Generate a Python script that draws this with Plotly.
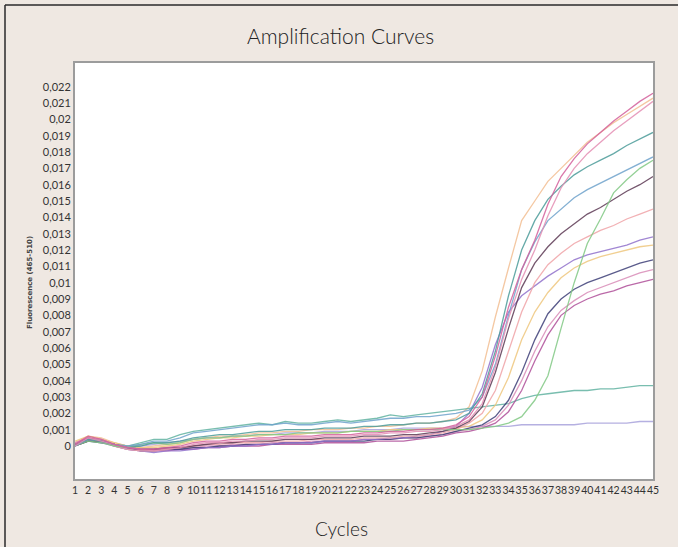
import plotly.graph_objects as go

cycles = list(range(1, 46))

ytick_vals = [0, 0.001, 0.002, 0.003, 0.004, 0.005, 0.006, 0.007, 0.008, 0.009, 0.01,
              0.011, 0.012, 0.013, 0.014, 0.015, 0.016, 0.017, 0.018, 0.019, 0.02, 0.021, 0.022]
ytick_text = ["0", "0,001", "0,002", "0,003", "0,004", "0,005", "0,006", "0,007", "0,008", "0,009", "0,01",
              "0,011", "0,012", "0,013", "0,014", "0,015", "0,016", "0,017", "0,018", "0,019", "0,02", "0,021", "0,022"]
xtick_text = [str(c) for c in cycles]

peach = [0.0002, 0.0006, 0.0005, 0.0002, 0.0000, -0.0001, 0.0000, 0.0001, 0.0002, 0.0004,
         0.0005, 0.0006, 0.0006, 0.0007, 0.0008, 0.0008, 0.0009, 0.0009, 0.0010, 0.0010,
         0.0010, 0.0011, 0.0011, 0.0012, 0.0012, 0.0013, 0.0014, 0.0014, 0.0015, 0.0017,
         0.0024, 0.0046, 0.0079, 0.0109, 0.0138, 0.0150, 0.0162, 0.0170, 0.0178, 0.0186,
         0.0192, 0.0198, 0.0203, 0.0208, 0.0213]
pink_top = [0.0001, 0.0006, 0.0004, 0.0001, -0.0001, -0.0002, -0.0002, -0.0001, 0.0000, 0.0002,
            0.0003, 0.0003, 0.0004, 0.0004, 0.0005, 0.0005, 0.0006, 0.0006, 0.0006, 0.0007,
            0.0007, 0.0007, 0.0008, 0.0008, 0.0009, 0.0009, 0.0010, 0.0010, 0.0011, 0.0013,
            0.0018, 0.0030, 0.0055, 0.0085, 0.0108, 0.0126, 0.0148, 0.0165, 0.0176, 0.0185,
            0.0192, 0.0199, 0.0205, 0.0211, 0.0216]
pink_light = [0.0000, 0.0005, 0.0003, 0.0001, -0.0001, -0.0002, -0.0003, -0.0002, -0.0001, 0.0001,
              0.0002, 0.0002, 0.0003, 0.0003, 0.0004, 0.0004, 0.0005, 0.0005, 0.0005, 0.0006,
              0.0006, 0.0006, 0.0007, 0.0007, 0.0008, 0.0008, 0.0009, 0.0009, 0.0010, 0.0012,
              0.0016, 0.0026, 0.0048, 0.0078, 0.0102, 0.0120, 0.0141, 0.0158, 0.0170, 0.0179,
              0.0186, 0.0193, 0.0199, 0.0205, 0.0211]
teal = [0.0001, 0.0004, 0.0003, 0.0001, -0.0001, 0.0000, 0.0002, 0.0002, 0.0003, 0.0005,
        0.0006, 0.0007, 0.0007, 0.0008, 0.0009, 0.0009, 0.0010, 0.0010, 0.0010, 0.0011,
        0.0011, 0.0011, 0.0012, 0.0012, 0.0013, 0.0013, 0.0014, 0.0014, 0.0015, 0.0016,
        0.0020, 0.0032, 0.0058, 0.0092, 0.0120, 0.0138, 0.0151, 0.0159, 0.0166, 0.0171,
        0.0175, 0.0179, 0.0184, 0.0188, 0.0192]
blue = [0.0000, 0.0004, 0.0003, 0.0001, 0.0000, 0.0001, 0.0003, 0.0003, 0.0005, 0.0008,
        0.0009, 0.0010, 0.0011, 0.0012, 0.0013, 0.0013, 0.0014, 0.0013, 0.0013, 0.0014,
        0.0015, 0.0014, 0.0015, 0.0016, 0.0017, 0.0017, 0.0018, 0.0018, 0.0019, 0.0020,
        0.0022, 0.0030, 0.0050, 0.0080, 0.0108, 0.0125, 0.0138, 0.0145, 0.0152, 0.0157,
        0.0161, 0.0165, 0.0169, 0.0173, 0.0177]
light_green = [0.0000, 0.0003, 0.0002, 0.0000, -0.0001, 0.0001, 0.0002, 0.0001, 0.0002, 0.0004,
               0.0005, 0.0005, 0.0006, 0.0006, 0.0007, 0.0007, 0.0007, 0.0008, 0.0008, 0.0008,
               0.0008, 0.0009, 0.0009, 0.0009, 0.0009, 0.0010, 0.0010, 0.0010, 0.0010, 0.0010,
               0.0010, 0.0011, 0.0012, 0.0014, 0.0018, 0.0028, 0.0043, 0.0072, 0.0100, 0.0124,
               0.0139, 0.0155, 0.0163, 0.0170, 0.0175]
dark_plum = [0.0000, 0.0003, 0.0003, 0.0001, -0.0001, -0.0002, -0.0002, -0.0001, -0.0001, 0.0000,
             0.0001, 0.0002, 0.0002, 0.0003, 0.0003, 0.0003, 0.0004, 0.0004, 0.0004, 0.0005,
             0.0005, 0.0005, 0.0006, 0.0006, 0.0006, 0.0007, 0.0007, 0.0008, 0.0009, 0.0011,
             0.0015, 0.0024, 0.0045, 0.0072, 0.0097, 0.0112, 0.0122, 0.0130, 0.0136, 0.0142,
             0.0146, 0.0151, 0.0156, 0.0160, 0.0165]
salmon = [0.0001, 0.0004, 0.0003, 0.0000, -0.0002, -0.0003, -0.0003, -0.0002, -0.0001, 0.0000,
          0.0001, 0.0001, 0.0002, 0.0002, 0.0002, 0.0003, 0.0003, 0.0003, 0.0004, 0.0004,
          0.0004, 0.0004, 0.0005, 0.0005, 0.0005, 0.0006, 0.0006, 0.0007, 0.0008, 0.0010,
          0.0014, 0.0020, 0.0034, 0.0058, 0.0082, 0.0100, 0.0111, 0.0118, 0.0124, 0.0128,
          0.0132, 0.0135, 0.0139, 0.0142, 0.0145]
purple = [0.0001, 0.0004, 0.0002, 0.0000, -0.0002, -0.0003, -0.0004, -0.0003, -0.0003, -0.0002,
          -0.0001, -0.0001, 0.0000, 0.0000, 0.0001, 0.0001, 0.0002, 0.0002, 0.0002, 0.0003,
          0.0003, 0.0003, 0.0004, 0.0004, 0.0005, 0.0005, 0.0006, 0.0007, 0.0009, 0.0012,
          0.0020, 0.0036, 0.0062, 0.0082, 0.0092, 0.0098, 0.0104, 0.0109, 0.0114, 0.0117,
          0.0119, 0.0121, 0.0123, 0.0126, 0.0128]
yellow = [0.0003, 0.0006, 0.0004, 0.0002, 0.0000, -0.0001, -0.0001, 0.0000, 0.0001, 0.0003,
          0.0004, 0.0005, 0.0005, 0.0006, 0.0006, 0.0007, 0.0007, 0.0007, 0.0008, 0.0008,
          0.0008, 0.0009, 0.0009, 0.0009, 0.0010, 0.0010, 0.0010, 0.0011, 0.0011, 0.0011,
          0.0012, 0.0016, 0.0025, 0.0042, 0.0065, 0.0082, 0.0094, 0.0103, 0.0109, 0.0113,
          0.0116, 0.0118, 0.0120, 0.0122, 0.0123]
navy = [0.0000, 0.0003, 0.0002, 0.0001, -0.0001, -0.0003, -0.0003, -0.0002, -0.0002, -0.0001,
        -0.0001, 0.0000, 0.0000, 0.0001, 0.0001, 0.0001, 0.0002, 0.0002, 0.0002, 0.0003,
        0.0003, 0.0003, 0.0003, 0.0004, 0.0004, 0.0005, 0.0005, 0.0006, 0.0007, 0.0009,
        0.0011, 0.0013, 0.0018, 0.0028, 0.0045, 0.0065, 0.0081, 0.0090, 0.0096, 0.0100,
        0.0103, 0.0106, 0.0109, 0.0112, 0.0114]
rose = [0.0002, 0.0005, 0.0004, 0.0001, -0.0001, -0.0002, -0.0002, -0.0002, -0.0001, -0.0001,
        0.0000, 0.0000, 0.0001, 0.0001, 0.0001, 0.0002, 0.0002, 0.0002, 0.0003, 0.0003,
        0.0003, 0.0003, 0.0004, 0.0004, 0.0004, 0.0005, 0.0005, 0.0006, 0.0007, 0.0009,
        0.0010, 0.0012, 0.0016, 0.0025, 0.0040, 0.0058, 0.0073, 0.0083, 0.0089, 0.0094,
        0.0097, 0.0100, 0.0103, 0.0106, 0.0108]
magenta = [0.0001, 0.0005, 0.0003, 0.0000, -0.0002, -0.0003, -0.0003, -0.0003, -0.0002, -0.0002,
           -0.0001, -0.0001, 0.0000, 0.0000, 0.0000, 0.0001, 0.0001, 0.0001, 0.0001, 0.0002,
           0.0002, 0.0002, 0.0002, 0.0003, 0.0003, 0.0003, 0.0004, 0.0005, 0.0006, 0.0008,
           0.0009, 0.0011, 0.0014, 0.0021, 0.0034, 0.0052, 0.0068, 0.0080, 0.0086, 0.0090,
           0.0093, 0.0095, 0.0098, 0.0100, 0.0102]
teal_low = [0.0001, 0.0005, 0.0004, 0.0001, 0.0000, 0.0002, 0.0004, 0.0004, 0.0007, 0.0009,
            0.0010, 0.0011, 0.0012, 0.0013, 0.0014, 0.0013, 0.0015, 0.0014, 0.0014, 0.0015,
            0.0016, 0.0015, 0.0016, 0.0017, 0.0019, 0.0018, 0.0019, 0.0020, 0.0021, 0.0022,
            0.0023, 0.0024, 0.0025, 0.0026, 0.0029, 0.0031, 0.0032, 0.0033, 0.0034, 0.0034,
            0.0035, 0.0035, 0.0036, 0.0037, 0.0037]
lavender = [0.0001, 0.0003, 0.0003, 0.0001, 0.0000, 0.0000, 0.0001, 0.0002, 0.0003, 0.0004,
            0.0005, 0.0005, 0.0006, 0.0006, 0.0007, 0.0007, 0.0008, 0.0008, 0.0008, 0.0009,
            0.0009, 0.0009, 0.0010, 0.0010, 0.0010, 0.0011, 0.0011, 0.0011, 0.0011, 0.0012,
            0.0012, 0.0012, 0.0012, 0.0012, 0.0013, 0.0013, 0.0013, 0.0013, 0.0013, 0.0014,
            0.0014, 0.0014, 0.0014, 0.0015, 0.0015]

series = [
    ("peach", peach, "#f3bf93"),
    ("lavender", lavender, "#a9a3dc"),
    ("teal_low", teal_low, "#62b3a2"),
    ("yellow", yellow, "#efc77e"),
    ("rose", rose, "#d98cb8"),
    ("magenta", magenta, "#b0509a"),
    ("navy", navy, "#3e3f78"),
    ("purple", purple, "#9172cc"),
    ("salmon", salmon, "#f0a4a8"),
    ("dark_plum", dark_plum, "#5e3a55"),
    ("light_green", light_green, "#82c985"),
    ("blue", blue, "#6fa3cc"),
    ("teal", teal, "#4c9c9a"),
    ("pink_light", pink_light, "#e58fb4"),
    ("pink_top", pink_top, "#d4609c"),
]

fig = go.Figure()
for name, vals, color in series:
    fig.add_trace(go.Scatter(x=cycles, y=vals, mode="lines", name=name,
                             line=dict(color=color, width=1.3), opacity=0.85,
                             showlegend=False, hoverinfo="skip"))

L, R, T, B = 75, 25, 63, 68
W, H = 678, 547
pw, ph = W - L - R, H - T - B

def px(xp):
    return (xp - L) / pw

def py(yp):
    return (H - B - yp) / ph

fig.update_layout(
    width=W, height=H,
    margin=dict(l=L, r=R, t=T, b=B, pad=0),
    paper_bgcolor="#efe8e2",
    plot_bgcolor="#ffffff",
    font=dict(family="Lato, sans-serif", color="#333333"),
    xaxis=dict(range=[1, 45], tickmode="array", tickvals=cycles, ticktext=xtick_text,
               tickangle=0, showgrid=False, zeroline=False, showline=True, mirror=True,
               linecolor="#9c9c9c", linewidth=2, ticks="",
               tickfont=dict(size=10.5, color="#333333")),
    yaxis=dict(range=[-0.00202, 0.02345], tickmode="array", tickvals=ytick_vals, ticktext=ytick_text,
               showgrid=False, zeroline=False, showline=True, mirror=True,
               linecolor="#9c9c9c", linewidth=2, ticks="",
               tickfont=dict(size=11, color="#333333")),
    shapes=[
        dict(type="line", xref="paper", yref="paper", x0=px(5), x1=px(5), y0=py(5), y1=py(560),
             line=dict(color="#2a2a2a", width=1.5)),
        dict(type="line", xref="paper", yref="paper", x0=px(5), x1=px(690), y0=py(5), y1=py(5),
             line=dict(color="#2a2a2a", width=1.5)),
    ],
    annotations=[
        dict(text="Amplification Curves", xref="paper", yref="paper", x=px(340), y=py(35),
             xanchor="center", yanchor="middle", showarrow=False,
             font=dict(size=21, color="#222222", family="Lato, sans-serif", weight=300)),
        dict(text="Cycles", xref="paper", yref="paper", x=px(341), y=py(528),
             xanchor="center", yanchor="middle", showarrow=False,
             font=dict(size=19, color="#222222", family="Lato, sans-serif", weight=300)),
        dict(text="<b>Fluorescence (465-510)</b>", xref="paper", yref="paper", x=px(30), y=py(283),
             xanchor="center", yanchor="middle", showarrow=False, textangle=-90,
             font=dict(size=7, color="#444444", family="DejaVu Sans, sans-serif")),
    ],
)

fig.write_html("out.html", config={"displayModeBar": False},
               post_script="document.body.style.margin='0';document.body.style.overflow='hidden';")
